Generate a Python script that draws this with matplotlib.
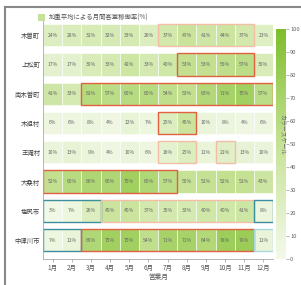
import matplotlib
matplotlib.use("Agg")
import matplotlib.pyplot as plt
from matplotlib.colors import LinearSegmentedColormap, Normalize
from matplotlib.patches import Rectangle
from matplotlib.lines import Line2D
import numpy as np

plt.rcParams['font.family'] = ['Noto Sans CJK JP', 'DejaVu Sans']

# データ
towns = ["木曽町", "上松町", "南木曽町", "木祖村", "王滝村", "大桑村", "塩尻市", "中津川市"]
months = ["1月", "2月", "3月", "4月", "5月", "6月", "7月", "8月", "9月", "10月", "11月", "12月"]

kiso = [24, 28, 31, 32, 33, 26, 37, 47, 41, 44, 37, 23]
agematsu = [17, 17, 30, 33, 42, 33, 40, 53, 53, 55, 57, 30]
nagiso = [41, 33, 61, 57, 60, 60, 54, 53, 63, 71, 75, 57]
kiso_mura = [6, 6, 8, 4, 12, 7, 25, 45, 10, 8, 4, 6]
otaki = [10, 13, 9, 4, 10, 6, 16, 25, 11, 21, 13, 10]
okuwa = [52, 60, 66, 66, 75, 65, 57, 50, 51, 52, 51, 43]
shiojiri = [3, 7, 26, 45, 45, 37, 35, 33, 40, 40, 41, 8]
nakatsugawa = [7, 11, 65, 75, 75, 54, 71, 71, 64, 78, 79, 11]
rates = [kiso, agematsu, nagiso, kiso_mura, otaki, okuwa, shiojiri, nakatsugawa]

# 強調枠 (行, 開始月, 終了月, 種類)
boxes = [(0, 7, 11, "light_red"), (1, 8, 11, "red"), (2, 3, 12, "red"),
         (3, 7, 8, "red"), (4, 7, 8, "light_red"), (4, 10, 10, "light_red"),
         (5, 1, 7, "red"), (6, 1, 3, "teal"), (6, 4, 11, "light_red"),
         (6, 12, 12, "teal"), (7, 1, 2, "teal"), (7, 3, 11, "red"),
         (7, 12, 12, "light_teal")]
box_colors = {"red": "#e0603f", "light_red": "#f2bfa6",
              "teal": "#3d8e9e", "light_teal": "#a9d8e2"}

cmap = LinearSegmentedColormap.from_list("grn", ["#f3f9ea", "#c6e296", "#7dbd2b"])
norm = Normalize(0, 100)

fig = plt.figure(figsize=(3.01, 2.85), dpi=100)
ax = fig.add_axes([0.143, 0.091, 0.764, 0.839])
x = np.arange(1, 13)
band = 0.76

for i, row in enumerate(rates):
    ax.barh(i, 1, left=x - 0.5, height=band, color=cmap(norm(np.array(row))),
            edgecolor="white", linewidth=0.4)
    for m, v in zip(x, row):
        ax.text(m, i, f"{v}%", ha="center", va="center", fontsize=3.6, color="#666666")

for r, m0, m1, kind in boxes:
    ax.add_patch(Rectangle((m0 - 0.5, r - band / 2), m1 - m0 + 1, band, fill=False,
                           edgecolor=box_colors[kind], linewidth=1.0))

ax.set_xlim(0.5, 12.5)
ax.set_ylim(7.65, -0.52)
ax.set_xticks(x)
ax.set_xticklabels(months, fontsize=4.6, color="#555555")
ax.set_yticks(range(len(towns)))
ax.set_yticklabels(towns, fontsize=4.6, color="#444444")
ax.tick_params(axis="y", length=0, pad=2)
ax.tick_params(axis="x", length=2, width=0.5, color="#999999", pad=1.5)
for s in ["top", "right"]:
    ax.spines[s].set_visible(False)
for s in ["left", "bottom"]:
    ax.spines[s].set_color("#aaaaaa")
    ax.spines[s].set_linewidth(0.6)
ax.set_xlabel("営業月", fontsize=4.8, color="#555555", labelpad=1)

# カラーバー
cax = fig.add_axes([0.917, 0.091, 0.033, 0.807])
sm = plt.cm.ScalarMappable(norm=norm, cmap=cmap)
cb = fig.colorbar(sm, cax=cax, ticks=np.arange(0, 101, 10))
cb.outline.set_visible(False)
cax.tick_params(labelsize=4.2, length=2, width=0.5, color="#999999", labelcolor="#666666", pad=1)
cax.text(0.7, 0.54, "カラースケール", rotation=270, ha="center", va="center",
         fontsize=4.2, color="#666666", transform=cax.transAxes)

# 凡例
fig.patches.append(Rectangle((0.126, 0.925), 0.024, 0.026, transform=fig.transFigure,
                             facecolor="#c6e29a", edgecolor="none"))
fig.text(0.163, 0.938, "加重平均による月間客室稼働率(%)", fontsize=4.6, color="#555555",
         va="center", ha="left")

# 外枠
fig.lines.append(Line2D([0.017, 0.017], [0, 0.975], transform=fig.transFigure,
                        color="#888888", linewidth=1.5))
fig.lines.append(Line2D([0.017, 1.0], [0.975, 0.975], transform=fig.transFigure,
                        color="#888888", linewidth=1.5))

fig.savefig("out.png", dpi=100)
